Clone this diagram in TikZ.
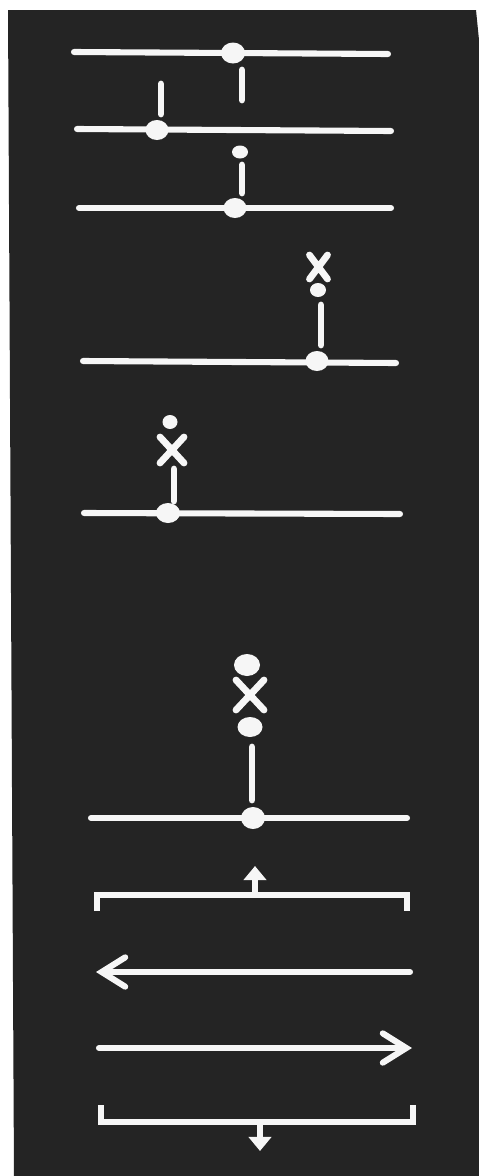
\documentclass[tikz,border=0pt]{standalone}
\usetikzlibrary{arrows.meta}

\definecolor{board}{RGB}{36,36,36}
\definecolor{chalk}{RGB}{246,246,246}

\tikzset{
    track/.style={draw=chalk, line width=5.2pt, line cap=round},
    stem/.style={draw=chalk, line width=5.8pt, line cap=round},
    cross/.style={draw=chalk, line width=5.8pt, line cap=round},
    bracket/.style={draw=chalk, line width=5.2pt, line join=miter},
    long arrow/.style={draw=chalk, line width=5.2pt, line cap=round,
        -{Straight Barb[length=20pt, width=25pt, line cap=round]}},
    short arrow/.style={draw=chalk, line width=5pt,
        -{Triangle[length=12pt, width=19pt]}},
}
\newcommand{\bead}[2]{\fill[chalk] #1 ellipse (#2);}
\newcommand{\crossmark}[3]{\draw[cross] #1 ++(-#2,-#3) -- ++(2*#2,2*#3) #1 ++(-#2,#3) -- ++(2*#2,-2*#3);}

\begin{document}
\begin{tikzpicture}[x=0.03cm, y=-0.03cm]

    % board and paper margin
    \useasboundingbox (0,0) rectangle (479,1176);
    \fill[white] (0,0) rectangle (479,1176);
    \fill[board] (8,10) -- (476,10) -- (479,40) -- (479,1176) -- (14,1176) -- cycle;

    % first row: bead on the track, stem below
    \draw[track] (74,52) -- (388,54);
    \bead{(233,53)}{12 and 10.5}
    \draw[stem] (242,70) -- (242,100);

    % second row: bead on the track, stem above
    \draw[track] (77,129) -- (391,131);
    \bead{(157,130)}{11.5 and 10}
    \draw[stem] (161,84) -- (161,114);

    % third row: stem and free bead above
    \draw[track] (79,208) -- (391,208);
    \bead{(235,208)}{11.5 and 10}
    \draw[stem] (242,165) -- (242,193);
    \bead{(240,152)}{8 and 6.5}

    % fourth row: stem, bead, cross
    \draw[track] (83,361) -- (396,363);
    \bead{(317,361)}{11.5 and 10}
    \draw[stem] (321,305) -- (321,345);
    \bead{(318,290)}{8 and 7}
    \crossmark{(318.5,267)}{9}{12}

    % fifth row: stem, cross, bead
    \draw[track] (84,513) -- (400,514);
    \bead{(168,513)}{12 and 10}
    \draw[stem] (174,469) -- (174,501);
    \crossmark{(172,450)}{12}{13}
    \bead{(170,422)}{7.5 and 7}

    % sixth row: stem, bead, cross, bead
    \draw[track] (91,818) -- (407,818);
    \bead{(253,818)}{12 and 11}
    \draw[stem] (252,747) -- (252,800);
    \bead{(250,727)}{12.5 and 10}
    \crossmark{(250,695)}{14}{15}
    \bead{(247,665)}{13 and 11}

    % brackets with small arrows, long arrows between
    \draw[bracket] (97,911) -- (97,895) -- (407,895) -- (407,911);
    \draw[short arrow] (255,895) -- (255,866);
    \draw[long arrow] (410,972) -- (96,972);
    \draw[long arrow] (99,1048) -- (412,1048);
    \draw[bracket] (101,1105) -- (101,1122) -- (413,1122) -- (413,1105);
    \draw[short arrow] (260,1122) -- (260,1151);

\end{tikzpicture}
\end{document}
